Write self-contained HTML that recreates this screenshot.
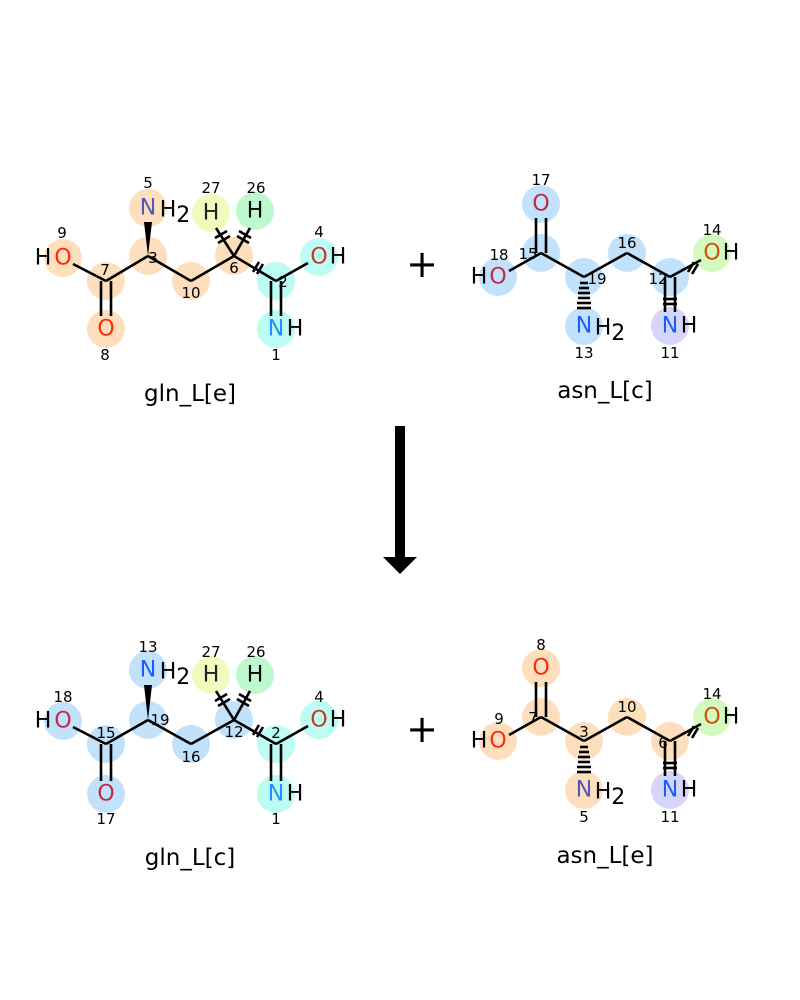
<!DOCTYPE html>
<html><head><meta charset="utf-8"><style>
html,body{margin:0;padding:0;background:#fff;width:800px;height:1000px;overflow:hidden}
svg text{font-family:"DejaVu Sans","Liberation Sans",sans-serif}
.a{font-size:22px;text-anchor:middle;dominant-baseline:central}
.n{font-size:15px;text-anchor:middle;dominant-baseline:central;fill:#000}
.l{font-size:23px;text-anchor:middle;fill:#000}
line{stroke:#000;stroke-width:2.6}
</style></head><body>
<svg width="800" height="1000" viewBox="0 0 800 1000" xmlns="http://www.w3.org/2000/svg">
<!-- TOP LEFT gln_L[e] -->
<g>
<circle cx="63" cy="258" r="19" fill="#fddfbe"/>
<circle cx="106" cy="281" r="19" fill="#fddfbe"/>
<circle cx="106" cy="329" r="19" fill="#fddfbe"/>
<circle cx="148" cy="256" r="19" fill="#fddfbe"/>
<circle cx="148" cy="208" r="19" fill="#fddfbe"/>
<circle cx="191" cy="281" r="19" fill="#fddfbe"/>
<circle cx="234" cy="256" r="19" fill="#fddfbe"/>
<circle cx="211" cy="213" r="19" fill="#f0fcbe"/>
<circle cx="255" cy="211" r="19" fill="#bdf9cc"/>
<circle cx="276" cy="281" r="19" fill="#bdfcf2"/>
<circle cx="319" cy="257" r="19" fill="#bdfcf2"/>
<circle cx="276" cy="329" r="19" fill="#bdfcf2"/>
<line x1="73" y1="264" x2="106" y2="281"/>
<line x1="101" y1="281" x2="101" y2="316"/><line x1="111" y1="281" x2="111" y2="316"/>
<line x1="106" y1="281" x2="148" y2="256"/>
<polygon points="148,256 144,222 152,222" fill="#000"/>
<line x1="148" y1="256" x2="191" y2="281"/>
<line x1="191" y1="281" x2="234" y2="256"/>
<line x1="234" y1="256" x2="216" y2="228"/>
<line x1="234" y1="256" x2="250" y2="228"/>
<line x1="234" y1="256" x2="276" y2="281"/>
<line x1="276" y1="281" x2="308" y2="263"/>
<line x1="271" y1="281" x2="271" y2="316"/><line x1="281" y1="281" x2="281" y2="316"/>
<g stroke="#000" stroke-width="2.2">
<line x1="215" y1="238" x2="227" y2="231"/><line x1="218" y1="243" x2="230" y2="236"/>
<line x1="239" y1="231" x2="251" y2="238"/><line x1="237" y1="236" x2="249" y2="243"/>
<line x1="253" y1="272" x2="259" y2="262"/><line x1="257" y1="274" x2="263" y2="264"/>
</g>
<text class="a" x="63" y="258" fill="#ff2a0a">O</text><text class="a" x="43" y="258" fill="#000">H</text>
<text class="a" x="106" y="329" fill="#ff2a0a">O</text>
<text class="a" x="148" y="208" fill="#5555bb">N</text><text class="a" x="175" y="210" fill="#000">H<tspan dy="5">2</tspan></text>
<text class="a" x="211" y="213" fill="#222">H</text>
<text class="a" x="255" y="211" fill="#000">H</text>
<text class="a" x="319" y="257" fill="#c0392b">O</text><text class="a" x="338" y="257" fill="#000">H</text>
<text class="a" x="276" y="329" fill="#1e90ff">N</text><text class="a" x="295" y="329" fill="#000">H</text>
<text class="n" x="62" y="233">9</text><text class="n" x="105" y="270">7</text><text class="n" x="105" y="355">8</text>
<text class="n" x="153" y="258">3</text><text class="n" x="148" y="183">5</text><text class="n" x="191" y="293">10</text>
<text class="n" x="234" y="268">6</text><text class="n" x="211" y="188">27</text><text class="n" x="256" y="188">26</text>
<text class="n" x="283" y="282">2</text><text class="n" x="319" y="232">4</text><text class="n" x="276" y="355">1</text>
<text class="l" x="190" y="401">gln_L[e]</text>
</g>

<!-- TOP RIGHT asn_L[c] -->
<g>
<circle cx="541" cy="204" r="19" fill="#c2e2fb"/>
<circle cx="541" cy="253" r="19" fill="#c2e2fb"/>
<circle cx="498" cy="277" r="19" fill="#c2e2fb"/>
<circle cx="584" cy="277" r="19" fill="#c2e2fb"/>
<circle cx="584" cy="326" r="19" fill="#c2e2fb"/>
<circle cx="627" cy="253" r="19" fill="#c2e2fb"/>
<circle cx="670" cy="277" r="19" fill="#c2e2fb"/>
<circle cx="712" cy="253" r="19" fill="#d4fbbf"/>
<circle cx="670" cy="326" r="19" fill="#d6d6fd"/>
<line x1="536" y1="253" x2="536" y2="218"/><line x1="546" y1="253" x2="546" y2="218"/>
<line x1="509" y1="271" x2="541" y2="253"/>
<line x1="541" y1="253" x2="584" y2="277"/>
<line x1="584" y1="277" x2="627" y2="253"/>
<line x1="627" y1="253" x2="670" y2="277"/>
<line x1="670" y1="277" x2="701" y2="260"/>
<line x1="665" y1="277" x2="665" y2="312"/><line x1="675" y1="277" x2="675" y2="312"/>
<g stroke="#000" stroke-width="2">
<line x1="580" y1="283" x2="588" y2="283"/><line x1="579" y1="288" x2="589" y2="288"/>
<line x1="578" y1="293" x2="590" y2="293"/><line x1="578" y1="298" x2="590" y2="298"/>
<line x1="577" y1="303" x2="591" y2="303"/><line x1="577" y1="308" x2="591" y2="308"/>
<line x1="663" y1="299" x2="677" y2="299"/><line x1="663" y1="304" x2="677" y2="304"/>
<line x1="688" y1="272" x2="694" y2="262"/><line x1="692" y1="274" x2="698" y2="264"/>
</g>
<text class="a" x="541" y="204" fill="#c0294a">O</text>
<text class="a" x="498" y="277" fill="#c0294a">O</text><text class="a" x="479" y="277" fill="#000">H</text>
<text class="a" x="584" y="326" fill="#1e5cff">N</text><text class="a" x="610" y="328" fill="#000">H<tspan dy="5">2</tspan></text>
<text class="a" x="712" y="253" fill="#d2500a">O</text><text class="a" x="731" y="253" fill="#000">H</text>
<text class="a" x="670" y="326" fill="#1e5cff">N</text><text class="a" x="689" y="326" fill="#000">H</text>
<text class="n" x="541" y="180">17</text><text class="n" x="528" y="254">15</text><text class="n" x="499" y="255">18</text>
<text class="n" x="597" y="279">19</text><text class="n" x="584" y="353">13</text><text class="n" x="627" y="243">16</text>
<text class="n" x="658" y="279">12</text><text class="n" x="712" y="230">14</text><text class="n" x="670" y="353">11</text>
<text class="l" x="605" y="398">asn_L[c]</text>
</g>

<text x="422" y="277" font-size="38" text-anchor="middle" fill="#000">+</text>
<text x="422" y="742" font-size="38" text-anchor="middle" fill="#000">+</text>
<rect x="395" y="426" width="10" height="132" fill="#000"/>
<polygon points="383,557 417,557 400,574" fill="#000"/>

<!-- BOTTOM LEFT gln_L[c] -->
<g>
<circle cx="63" cy="721" r="19" fill="#c2e2fb"/>
<circle cx="106" cy="744" r="19" fill="#c2e2fb"/>
<circle cx="106" cy="794" r="19" fill="#c2e2fb"/>
<circle cx="148" cy="720" r="19" fill="#c2e2fb"/>
<circle cx="148" cy="670" r="19" fill="#c2e2fb"/>
<circle cx="191" cy="744" r="19" fill="#c2e2fb"/>
<circle cx="234" cy="720" r="19" fill="#c2e2fb"/>
<circle cx="211" cy="675" r="19" fill="#f0fcbe"/>
<circle cx="255" cy="675" r="19" fill="#bdf9cc"/>
<circle cx="276" cy="744" r="19" fill="#bdfcf2"/>
<circle cx="319" cy="720" r="19" fill="#bdfcf2"/>
<circle cx="276" cy="794" r="19" fill="#bdfcf2"/>
<line x1="73" y1="727" x2="106" y2="744"/>
<line x1="101" y1="744" x2="101" y2="781"/><line x1="111" y1="744" x2="111" y2="781"/>
<line x1="106" y1="744" x2="148" y2="720"/>
<polygon points="148,720 144,685 152,685" fill="#000"/>
<line x1="148" y1="720" x2="191" y2="744"/>
<line x1="191" y1="744" x2="234" y2="720"/>
<line x1="234" y1="720" x2="216" y2="691"/>
<line x1="234" y1="720" x2="250" y2="691"/>
<line x1="234" y1="720" x2="276" y2="744"/>
<line x1="276" y1="744" x2="308" y2="726"/>
<line x1="271" y1="744" x2="271" y2="781"/><line x1="281" y1="744" x2="281" y2="781"/>
<g stroke="#000" stroke-width="2.2">
<line x1="215" y1="701" x2="227" y2="694"/><line x1="218" y1="706" x2="230" y2="699"/>
<line x1="239" y1="694" x2="251" y2="701"/><line x1="237" y1="699" x2="249" y2="706"/>
<line x1="253" y1="735" x2="259" y2="725"/><line x1="257" y1="737" x2="263" y2="727"/>
</g>
<text class="a" x="63" y="721" fill="#c0294a">O</text><text class="a" x="43" y="721" fill="#000">H</text>
<text class="a" x="106" y="794" fill="#c0294a">O</text>
<text class="a" x="148" y="670" fill="#1e5cff">N</text><text class="a" x="175" y="672" fill="#000">H<tspan dy="5">2</tspan></text>
<text class="a" x="211" y="675" fill="#222">H</text>
<text class="a" x="255" y="675" fill="#000">H</text>
<text class="a" x="319" y="720" fill="#c0392b">O</text><text class="a" x="338" y="720" fill="#000">H</text>
<text class="a" x="276" y="794" fill="#1e90ff">N</text><text class="a" x="295" y="794" fill="#000">H</text>
<text class="n" x="63" y="697">18</text><text class="n" x="106" y="733">15</text><text class="n" x="106" y="819">17</text>
<text class="n" x="160" y="720">19</text><text class="n" x="148" y="647">13</text><text class="n" x="191" y="757">16</text>
<text class="n" x="234" y="732">12</text><text class="n" x="211" y="652">27</text><text class="n" x="256" y="652">26</text>
<text class="n" x="276" y="733">2</text><text class="n" x="319" y="697">4</text><text class="n" x="276" y="819">1</text>
<text class="l" x="190" y="865">gln_L[c]</text>
</g>

<!-- BOTTOM RIGHT asn_L[e] -->
<g>
<circle cx="541" cy="668" r="19" fill="#fddfbe"/>
<circle cx="541" cy="717" r="19" fill="#fddfbe"/>
<circle cx="498" cy="741" r="19" fill="#fddfbe"/>
<circle cx="584" cy="741" r="19" fill="#fddfbe"/>
<circle cx="584" cy="790" r="19" fill="#fddfbe"/>
<circle cx="627" cy="717" r="19" fill="#fddfbe"/>
<circle cx="670" cy="741" r="19" fill="#fddfbe"/>
<circle cx="712" cy="717" r="19" fill="#d4fbbf"/>
<circle cx="670" cy="790" r="19" fill="#d6d6fd"/>
<line x1="536" y1="717" x2="536" y2="682"/><line x1="546" y1="717" x2="546" y2="682"/>
<line x1="509" y1="735" x2="541" y2="717"/>
<line x1="541" y1="717" x2="584" y2="741"/>
<line x1="584" y1="741" x2="627" y2="717"/>
<line x1="627" y1="717" x2="670" y2="741"/>
<line x1="670" y1="741" x2="701" y2="724"/>
<line x1="665" y1="741" x2="665" y2="776"/><line x1="675" y1="741" x2="675" y2="776"/>
<g stroke="#000" stroke-width="2">
<line x1="580" y1="747" x2="588" y2="747"/><line x1="579" y1="752" x2="589" y2="752"/>
<line x1="578" y1="757" x2="590" y2="757"/><line x1="578" y1="762" x2="590" y2="762"/>
<line x1="577" y1="767" x2="591" y2="767"/><line x1="577" y1="772" x2="591" y2="772"/>
<line x1="663" y1="763" x2="677" y2="763"/><line x1="663" y1="768" x2="677" y2="768"/>
<line x1="688" y1="736" x2="694" y2="726"/><line x1="692" y1="738" x2="698" y2="728"/>
</g>
<text class="a" x="541" y="668" fill="#ff2a0a">O</text>
<text class="a" x="498" y="741" fill="#ff2a0a">O</text><text class="a" x="479" y="741" fill="#000">H</text>
<text class="a" x="584" y="790" fill="#5555bb">N</text><text class="a" x="610" y="792" fill="#000">H<tspan dy="5">2</tspan></text>
<text class="a" x="712" y="717" fill="#d2500a">O</text><text class="a" x="731" y="717" fill="#000">H</text>
<text class="a" x="670" y="790" fill="#1e5cff">N</text><text class="a" x="689" y="790" fill="#000">H</text>
<text class="n" x="541" y="645">8</text><text class="n" x="533" y="718">7</text><text class="n" x="499" y="719">9</text>
<text class="n" x="584" y="732">3</text><text class="n" x="584" y="817">5</text><text class="n" x="627" y="707">10</text>
<text class="n" x="663" y="743">6</text><text class="n" x="712" y="694">14</text><text class="n" x="670" y="817">11</text>
<text class="l" x="605" y="863">asn_L[e]</text>
</g>
</svg>
</body></html>
